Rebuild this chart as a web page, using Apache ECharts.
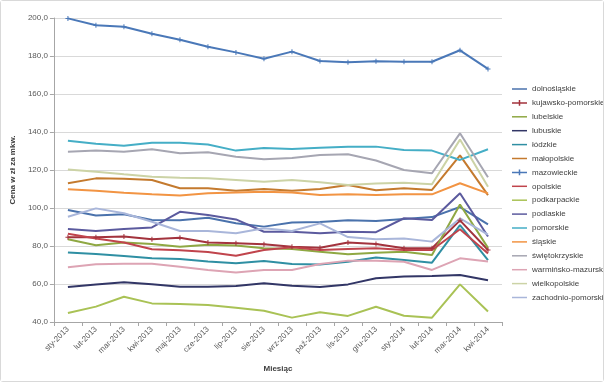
<!DOCTYPE html>
<html><head><meta charset="utf-8">
<script src="https://cdn.jsdelivr.net/npm/echarts@6/dist/echarts.min.js"></script>
<style>html,body{margin:0;padding:0;background:#fff}#c{width:602px;height:380px;border:1px solid #D9D9D9;border-radius:3px}</style>
</head><body><div id="c"></div>
<script>
var months = ['sty-2013','lut-2013','mar-2013','kwi-2013','maj-2013','cze-2013','lip-2013','sie-2013','wrz-2013','paź-2013','lis-2013','gru-2013','sty-2014','lut-2014','mar-2014','kwi-2014'];
var yTicks = [40,60,80,100,120,140,160,180,200];

var dolnoslaskie      = [98.9,96.0,96.7,93.7,93.5,94.9,92.0,90.2,92.4,92.6,93.5,93.2,94.2,95.2,100.5,91.4];
var kujawskoPomorskie = [84.6,84.6,85.0,83.5,84.4,81.9,81.4,80.9,79.6,79.1,81.8,81.0,78.8,78.8,93.5,77.9];
var lubelskie         = [83.6,80.4,81.9,81.0,79.6,80.7,80.2,78.8,78.4,77.0,75.6,76.5,77.0,75.3,101.8,79.0];
var lubuskie          = [58.4,59.8,60.9,59.9,58.6,58.5,58.9,60.4,59.1,58.4,59.8,63.0,63.9,64.2,64.7,62.0];
var lodzkie           = [76.6,75.8,74.7,73.5,73.2,71.9,70.9,72.1,70.5,70.2,71.7,74.0,72.6,71.2,91.0,72.6];
var malopolskie       = [113.0,115.6,115.4,114.7,110.4,110.4,109.1,110.0,109.1,110.0,112.1,109.3,110.4,109.5,127.7,106.8];
var mazowieckie       = [199.8,196.2,195.4,191.7,188.6,184.9,181.9,178.6,182.3,177.4,176.7,177.2,177.0,177.0,183.0,173.2];
var opolskie          = [86.5,84.0,81.8,78.3,77.7,76.8,74.9,77.9,79.3,77.9,78.4,78.8,77.9,77.9,88.8,76.0];
var podkarpackie      = [44.7,48.1,53.3,49.8,49.5,49.0,47.5,45.9,42.3,45.1,43.2,48.0,43.3,42.3,59.8,45.5];
var podlaskie         = [88.9,87.9,88.9,89.8,98.0,96.3,94.0,87.5,87.5,86.7,87.5,87.3,94.6,93.7,107.8,85.0];
var pomorskie         = [135.4,133.8,132.8,134.4,134.4,133.4,130.2,131.6,131.1,131.7,132.3,132.3,130.5,130.2,125.3,130.9];
var slaskie           = [109.9,109.1,108.0,107.2,106.6,107.7,108.2,108.6,108.2,106.8,107.2,106.9,107.2,107.2,113.0,107.7];
var swietokrzyskie    = [129.6,130.2,129.6,130.9,128.8,129.3,127.0,125.6,126.3,127.9,128.3,125.0,120.0,118.3,139.3,116.2];
var warminskoMazurskie= [68.8,70.4,70.6,70.6,69.1,67.4,66.0,67.4,67.4,70.5,72.3,72.3,71.7,67.4,73.5,71.8];
var wielkopolskie     = [120.3,119.1,117.7,116.5,115.9,115.6,114.7,113.8,114.7,113.5,112.1,112.9,113.3,112.5,136.0,111.2];
var zachodnioPomorskie= [95.4,99.8,97.2,92.8,87.9,87.9,86.7,89.3,87.9,91.9,84.7,83.5,84.0,82.3,94.5,86.0];

var seriesDefs = [
  ['dolnośląskie', dolnoslaskie, '#4A72AC', false],
  ['kujawsko-pomorskie', kujawskoPomorskie, '#A3333D', true],
  ['lubelskie', lubelskie, '#8FA843', false],
  ['lubuskie', lubuskie, '#323666', false],
  ['łódzkie', lodzkie, '#2F8FA3', false],
  ['małopolskie', malopolskie, '#C47A2E', false],
  ['mazowieckie', mazowieckie, '#4A78B8', true],
  ['opolskie', opolskie, '#C0444C', false],
  ['podkarpackie', podkarpackie, '#A9C255', false],
  ['podlaskie', podlaskie, '#5B5A9E', false],
  ['pomorskie', pomorskie, '#45AEC6', false],
  ['śląskie', slaskie, '#F29443', false],
  ['świętokrzyskie', swietokrzyskie, '#A6A6B2', false],
  ['warmińsko-mazurskie', warminskoMazurskie, '#DDA4B4', false],
  ['wielkopolskie', wielkopolskie, '#CCD3A6', false],
  ['zachodnio-pomorskie', zachodnioPomorskie, '#A9B6DA', false]
];
var plus = 'path://M4,0h2v4h4v2h-4v4h-2v-4h-4v-2h4z';
var lineIcon = 'path://M0,4.2h16v1.6h-16z';
var lineIconPlus = 'path://M0,4.2h16v1.6h-16z M7.2,2h1.6v6h-1.6z';
var series = seriesDefs.map(function(d){
  return {
    name: d[0], type: 'line', data: d[1],
    symbol: d[3] ? plus : 'none', symbolSize: 5, showSymbol: d[3],
    lineStyle: {color: d[2], width: 2},
    itemStyle: {color: d[2]},
    emphasis: {disabled: true}, animation: false
  };
});
var chart = echarts.init(document.getElementById('c'));
chart.setOption({
  backgroundColor: '#fff',
  animation: false,
  textStyle: {fontFamily: 'Liberation Sans'},
  grid: {left: 48, right: 101, top: 17, bottom: 59},
  legend: {
    orient: 'vertical', left: 506, top: 79, itemGap: 5.9, itemWidth: 15, itemHeight: 10,
    textStyle: {fontSize: 8, color: '#404040', fontFamily: 'Liberation Sans'},
    data: seriesDefs.map(function(d){return {name: d[0], icon: d[3] ? lineIconPlus : lineIcon};})
  },
  xAxis: {
    type: 'category', data: months, boundaryGap: true,
    name: 'Miesiąc', nameLocation: 'middle', nameGap: 43,
    nameTextStyle: {fontSize: 8, fontWeight: 'bold', color: '#404040'},
    axisLine: {lineStyle: {color: '#A6A6A6'}},
    axisTick: {show: true, alignWithLabel: false, length: 4, lineStyle: {color: '#A6A6A6'}},
    axisLabel: {rotate: 45, fontSize: 8, color: '#595959', margin: 6, interval: 0}
  },
  yAxis: {
    type: 'value', min: yTicks[0], max: yTicks[yTicks.length-1], interval: 20,
    name: 'Cena w zł za mkw.', nameLocation: 'middle', nameGap: 33,
    nameTextStyle: {fontSize: 8, fontWeight: 'bold', color: '#404040'},
    axisLine: {show: true, lineStyle: {color: '#A6A6A6'}},
    axisTick: {show: true, length: 4, lineStyle: {color: '#A6A6A6'}},
    splitLine: {lineStyle: {color: '#D9D9D9'}},
    axisLabel: {fontSize: 8, color: '#595959', margin: 6, formatter: function(v){return v.toFixed(1).replace('.', ',');}}
  },
  series: series
});
</script></body></html>
